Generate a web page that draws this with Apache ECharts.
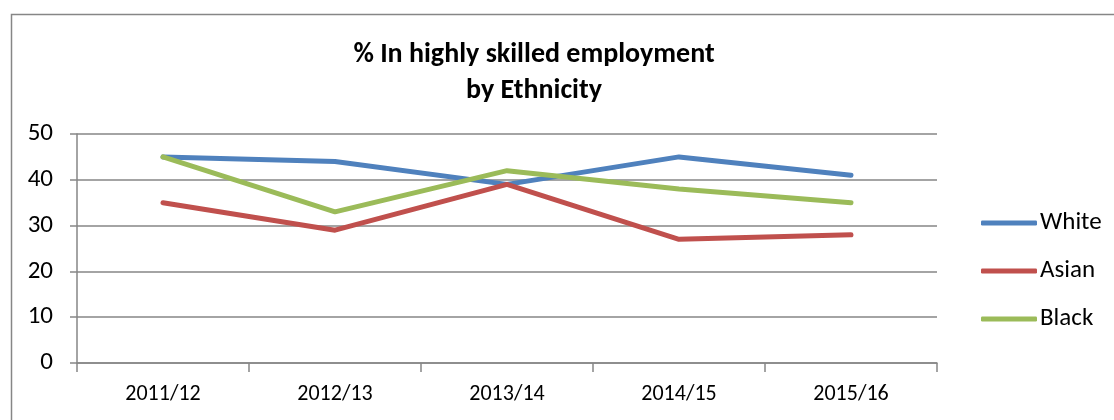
<!DOCTYPE html>
<html>
<head>
<meta charset="utf-8">
<script src="https://cdn.jsdelivr.net/npm/echarts@6/dist/echarts.min.js"></script>
<style>
  html, body { margin: 0; padding: 0; background: #fff; }
  #chart { width: 1114px; height: 420px; }
</style>
</head>
<body>
<div id="chart"></div>
<script>
var years = ['2011/12', '2012/13', '2013/14', '2014/15', '2015/16'];
var white = [45, 44, 39, 45, 41];
var asian = [35, 29, 39, 27, 28];
var black = [45, 33, 42, 38, 35];

var font = "Carlito, 'Open Sans', 'Liberation Sans', sans-serif";

function lineSeries(name, data, color) {
  return {
    name: name,
    type: 'line',
    data: data,
    showSymbol: false,
    symbol: 'none',
    animation: false,
    lineStyle: { width: 5, color: color, cap: 'round', join: 'round' },
    itemStyle: { color: color }
  };
}

var chart = echarts.init(document.getElementById('chart'));
chart.setOption({
  backgroundColor: '#fff',
  graphic: [{
    type: 'rect',
    left: 9, top: 12,
    shape: { width: 1200, height: 500 },
    style: { fill: 'none', stroke: '#868686', lineWidth: 1.5 },
    silent: true
  }],
  title: {
    text: '% In highly skilled employment\nby Ethnicity',
    left: 529,
    top: 32,
    textAlign: 'center',
    textStyle: { fontFamily: font, fontSize: 28, fontWeight: 'bold', color: '#000', lineHeight: 36 }
  },
  legend: {
    orient: 'vertical',
    left: 976,
    top: 205,
    itemWidth: 56,
    itemHeight: 5,
    itemGap: 22,
    icon: 'roundRect',
    textStyle: { fontFamily: font, fontSize: 25, color: '#000', lineHeight: 26, padding: [0, 0, 0, -2] },
    data: ['White', 'Asian', 'Black']
  },
  grid: { left: 77, right: 177, top: 134, bottom: 57 },
  xAxis: {
    type: 'category',
    data: years,
    boundaryGap: true,
    axisLine: { lineStyle: { color: '#868686', width: 1.5 } },
    axisTick: { show: true, alignWithLabel: false, length: 9, lineStyle: { color: '#868686', width: 1.5 } },
    axisLabel: { fontFamily: font, fontSize: 22, color: '#000', margin: 20 }
  },
  yAxis: {
    type: 'value',
    min: 0,
    max: 50,
    interval: 10,
    axisLine: { show: true, lineStyle: { color: '#868686', width: 1.5 } },
    axisTick: { show: true, length: 7, lineStyle: { color: '#868686', width: 1.5 } },
    axisLabel: { fontFamily: font, fontSize: 25, color: '#000', margin: 24 },
    splitLine: { lineStyle: { color: '#868686', width: 1.5 } }
  },
  series: [
    lineSeries('White', white, '#4F81BD'),
    lineSeries('Asian', asian, '#C0504D'),
    lineSeries('Black', black, '#9BBB59')
  ]
});
</script>
</body>
</html>
